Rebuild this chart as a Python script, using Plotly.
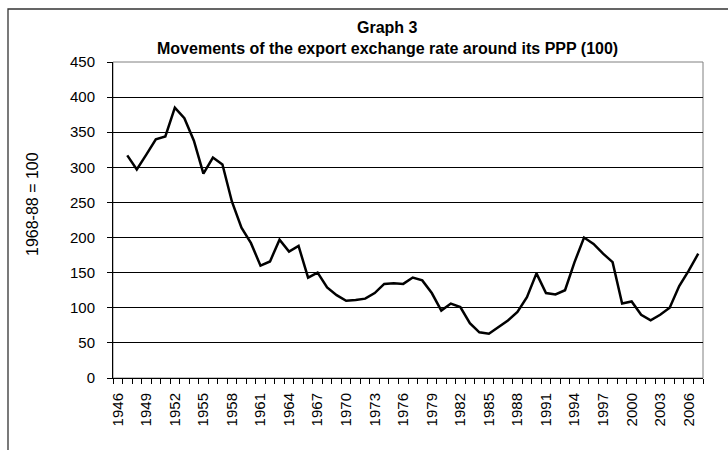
import plotly.graph_objects as go

years = list(range(1946, 2008))
values = [None,
          317, 297, 318, 340, 344, 385, 370, 338, 291, 314,
          304, 251, 214, 192, 160, 166, 197, 180, 188, 143,
          150, 129, 118, 110, 111, 113, 121, 134, 135, 134,
          143, 139, 121, 96, 106, 101, 78, 65, 63, 72,
          82, 94, 115, 149, 121, 119, 125, 165, 200, 191,
          177, 165, 106, 109, 90, 82, 90, 100, 131, 153,
          177]
label_years = list(range(1946, 2008, 3))
y_ticks = list(range(0, 451, 50))

title_line1 = "Graph 3"
title_line2 = "Movements of the export exchange rate around its PPP (100)"
y_title = "1968-88 = 100"

FONT = "Liberation Sans, Arial, sans-serif"

fig = go.Figure()
fig.add_trace(go.Scatter(x=years, y=values, mode="lines",
                         line=dict(color="black", width=2.5),
                         connectgaps=False, showlegend=False,
                         hoverinfo="skip"))

W, H = 728, 450
L, R, T, B = 113, 25, 62, 72
pw, ph = W - L - R, H - T - B

def px_x(p):
    return (p - L) / pw

def px_y(p):
    return 1 - (p - T) / ph

fig.update_layout(
    width=W, height=H,
    margin=dict(l=L, r=R, t=T, b=B),
    paper_bgcolor="white", plot_bgcolor="white",
    font=dict(family=FONT, size=15, color="black"),
    xaxis=dict(
        range=[years[0] - 0.5, years[-1] + 0.5],
        tickmode="array", tickvals=label_years,
        ticktext=[str(y) for y in label_years],
        tickangle=-90, ticks="", showgrid=False,
        showline=True, linecolor="black", linewidth=1,
        ticklabelstandoff=8,
        minor=dict(tickmode="array",
                   tickvals=[y - 0.5 for y in years] + [years[-1] + 0.5],
                   ticks="outside", ticklen=5, tickcolor="black",
                   showgrid=False),
        zeroline=False,
        tickfont=dict(size=15),
    ),
    yaxis=dict(
        range=[0, 450], tickmode="array", tickvals=y_ticks,
        ticks="outside", ticklen=5, tickcolor="black",
        showgrid=True, gridcolor="black", gridwidth=1,
        showline=True, linecolor="black", linewidth=1,
        zeroline=False, ticklabelstandoff=9,
        tickfont=dict(size=15),
    ),
    shapes=[
        dict(type="rect", xref="paper", yref="paper",
             x0=0, x1=1, y0=0, y1=1,
             line=dict(color="#808080", width=1), layer="below"),
        dict(type="rect", xref="paper", yref="paper",
             x0=px_x(8), x1=px_x(760), y0=px_y(480), y1=px_y(9),
             line=dict(color="#333333", width=1.3)),
    ],
    annotations=[
        dict(text="<b>" + title_line1 + "</b>", xref="paper", yref="paper",
             x=px_x(387), y=px_y(27), xanchor="center", yanchor="middle",
             showarrow=False, font=dict(size=16)),
        dict(text="<b>" + title_line2 + "</b>", xref="paper", yref="paper",
             x=px_x(387), y=px_y(48), xanchor="center", yanchor="middle",
             showarrow=False, font=dict(size=16)),
        dict(text=y_title, xref="paper", yref="paper",
             x=px_x(33), y=px_y(204), xanchor="center", yanchor="middle",
             textangle=-90, showarrow=False, font=dict(size=16)),
    ],
)

fig.write_html("out.html", config={"displayModeBar": False},
               post_script="document.body.style.margin='0';")
